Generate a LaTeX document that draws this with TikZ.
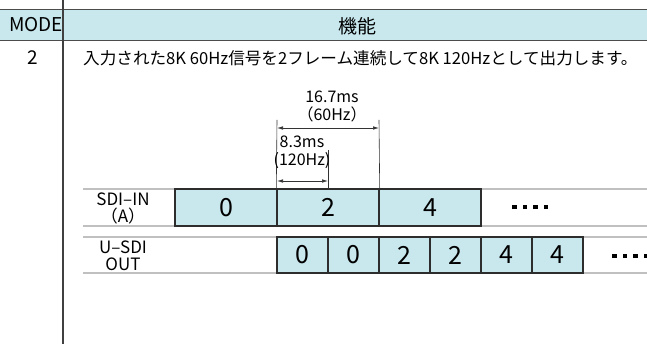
\documentclass[tikz,border=0pt]{standalone}
\usepackage{fontspec}
\setmainfont{Noto Sans CJK JP}
\usetikzlibrary{arrows.meta}

\definecolor{cellblue}{RGB}{200,232,238}
\definecolor{framegray}{RGB}{45,45,45}
\definecolor{rulegray}{RGB}{192,192,192}

\tikzstyle{headline} = [draw=black!70, line width=1pt]
\tikzstyle{colline} = [draw=black!75, line width=1.1pt]
\tikzstyle{rowline} = [draw=rulegray, line width=1.3pt]
\tikzstyle{plaintext} = [inner sep=0pt, font=\fontsize{16.6}{19}\selectfont]
\tikzstyle{headtext} = [inner sep=0pt, font=\fontsize{19}{19}\selectfont]
\tikzstyle{rowlabel} = [inner sep=0pt, align=center, font=\fontsize{17}{17}\selectfont]
\tikzstyle{dimtext} = [inner sep=0pt, align=center, font=\fontsize{16}{18}\selectfont]
\tikzstyle{dimline} = [draw=black!80, line width=0.6pt]
\tikzstyle{dimarrow} = [dimline, {Latex[length=6pt,width=3.5pt]}-{Latex[length=6pt,width=3.5pt]}]
\tikzstyle{frame} = [draw=framegray, line width=1.4pt, fill=cellblue, inner sep=0pt, font=\fontsize{25}{25}\selectfont]
\tikzstyle{inframe} = [frame, minimum width=102pt, minimum height=37pt]
\tikzstyle{outframe} = [frame, minimum width=51pt, minimum height=36pt]

\newcommand{\fourdots}{\rule{4.5pt}{4.5pt}\hspace{6pt}\rule{4.5pt}{4.5pt}\hspace{6pt}\rule{4.5pt}{4.5pt}\hspace{6pt}\rule{4.5pt}{4.5pt}}

\begin{document}
\begin{tikzpicture}[x=1pt,y=-1pt]
		\useasboundingbox (0,0) rectangle (647,344);
		\fill[cellblue] (0,10) rectangle (647,41);
		\draw[headline] (0,10) -- (647,10);
		\draw[headline] (0,41) -- (647,41);
		\draw[colline] (63,0) -- (63,344);
		\node[headtext] (mode) at (36,25) {MODE};
		\node[headtext] (func) at (357,26) {機能};
		\node[headtext] (modeno) at (33,58) {2};
		\node[plaintext, anchor=west] (desc) at (83,58) {入力された8K 60Hz信号を2フレーム連続して8K 120Hzとして出力します。};
		\draw[rowline] (83,189) -- (647,189);
		\draw[rowline] (83,226) -- (647,226);
		\draw[rowline] (83,237) -- (647,237);
		\draw[rowline] (83,273) -- (647,273);
		\node[rowlabel] (sdiin) at (123,208) {SDI–IN\\（A）};
		\node[rowlabel] (usdi) at (123,255.5) {U–SDI\\OUT};
		\node[inframe] (in0) at (226,207.5) {0};
		\node[inframe] (in2) at (328,207.5) {2};
		\node[inframe] (in4) at (430,207.5) {4};
		\node[inner sep=0pt] (indots) at (530,207) {\fourdots};
		\node[outframe] (out1) at (302.5,255) {0};
		\node[outframe] (out2) at (353.5,255) {0};
		\node[outframe] (out3) at (404.5,255) {2};
		\node[outframe] (out4) at (455.5,255) {2};
		\node[outframe] (out5) at (506.5,255) {4};
		\node[outframe] (out6) at (557.5,255) {4};
		\node[inner sep=0pt] (outdots) at (630,256) {\fourdots};
		\coordinate (t1) at (277,120);
		\coordinate (t2) at (379,120);
		\coordinate (t3) at (328,150);
		\coordinate (b3) at (328,189);
		\draw[dimline] (in2.north west) -- (t1);
		\draw[dimline] (in2.north east) -- (t2);
		\draw[dimline] (b3) -- (t3);
		\coordinate (a1) at (277,128);
		\coordinate (a2) at (379,128);
		\coordinate (a3) at (277,181);
		\coordinate (a4) at (328,181);
		\draw[dimarrow] (a1) -- (a2);
		\draw[dimarrow] (a3) -- (a4);
		\node[dimtext] (frame60) at (332,106) {16.7ms\\（60Hz）};
		\node[dimtext] (frame120) at (302,152) {8.3ms\\(120Hz)};
\end{tikzpicture}
\end{document}
